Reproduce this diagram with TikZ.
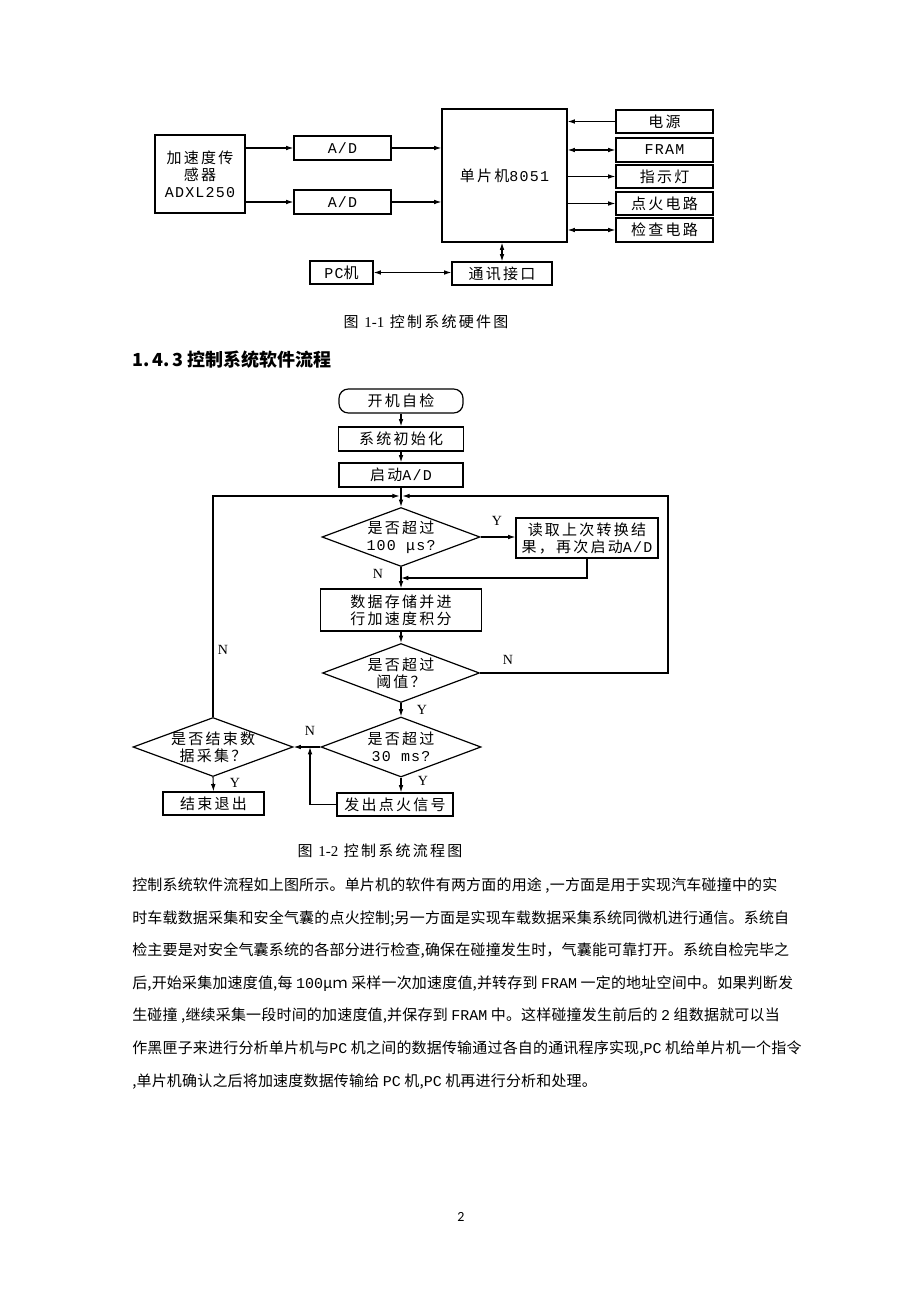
\documentclass[tikz,border=0pt]{standalone}
\usepackage{fontspec}
\setmainfont{Noto Sans CJK SC}
\newfontfamily\dg[LetterSpace=15]{Noto Sans CJK SC}
\newfontfamily\bd[LetterSpace=1.2]{Noto Sans CJK SC}
\newfontfamily\mn[LetterSpace=8]{Liberation Mono}
\newfontfamily\bm{Liberation Mono}
\newfontfamily\srf{Liberation Serif}
\newfontfamily\calf{Carlito}
\usetikzlibrary{shapes.geometric,arrows.meta}
\newdimen\pxu \pxu=0.75pt
\begin{document}
\begin{tikzpicture}[x=0.75pt,y=-0.75pt,
  every node/.style={font=\fontsize{11.25pt}{12.75pt}\dg},
  blk/.style={draw, line width=0.9pt, inner sep=0pt, align=center},
  dia/.style={draw, diamond, line width=0.9pt, inner sep=0pt},
  dtxt/.style={align=center, inner sep=0pt},
  arr/.style={line width=0.8pt, -{Latex[length=5.5pt,width=3.5pt]}},
  darr/.style={line width=0.8pt, {Latex[length=5.5pt,width=3.5pt]}-{Latex[length=5.5pt,width=3.5pt]}},
  ln/.style={line width=0.8pt},
  lbl/.style={font=\fontsize{10.5pt}{12pt}\srf, inner sep=0pt},
  body/.style={anchor=west, inner sep=0pt, font=\fontsize{11.25pt}{13pt}\bd}
]
\fill[white] (0,0) rectangle (920,1301);
\useasboundingbox (0,0) rectangle (920,1301);

% ---------- hardware diagram ----------
\node[blk, minimum width=90\pxu, minimum height=78\pxu] (sens) at (200,174) {加速度传\\感器\\{\mn ADXL250}};
\node[blk, minimum width=97\pxu, minimum height=24\pxu] (ad1) at (342.5,148) {\mn A/D};
\node[blk, minimum width=97\pxu, minimum height=24\pxu] (ad2) at (342.5,202) {\mn A/D};
\node[blk, minimum width=125\pxu, minimum height=133\pxu] (mcu) at (504.5,175.5) {单片机{\mn 8051}};
\node[blk, minimum width=97\pxu, minimum height=23\pxu] (ps) at (664.5,121.5) {电源};
\node[blk, minimum width=97\pxu, minimum height=24\pxu] (fram) at (664.5,150) {\mn FRAM};
\node[blk, minimum width=97\pxu, minimum height=23\pxu] (led) at (664.5,176.5) {指示灯};
\node[blk, minimum width=97\pxu, minimum height=23\pxu] (ign) at (664.5,203.5) {点火电路};
\node[blk, minimum width=97\pxu, minimum height=24\pxu] (chk) at (664.5,230) {检查电路};
\node[blk, minimum width=100\pxu, minimum height=23\pxu] (comm) at (502,273.5) {通讯接口};
\node[blk, minimum width=63\pxu, minimum height=23\pxu] (pc) at (341.5,272.5) {{\mn PC}机};

\draw[arr] (sens.east |- ad1.west) -- (ad1.west);
\draw[arr] (sens.east |- ad2.west) -- (ad2.west);
\draw[arr] (ad1.east) -- (mcu.west |- ad1.east);
\draw[arr] (ad2.east) -- (mcu.west |- ad2.east);
\draw[arr] (ps.west) -- (mcu.east |- ps.west);
\draw[darr] (mcu.east |- fram.west) -- (fram.west);
\draw[arr] (mcu.east |- led.west) -- (led.west);
\draw[arr] (mcu.east |- ign.west) -- (ign.west);
\draw[darr] (mcu.east |- chk.west) -- (chk.west);
\draw[darr] (mcu.south -| comm.north) -- (comm.north);
\draw[darr] (pc.east) -- (comm.west |- pc.east);

\node (cap1) at (426,322) {图\ {\srf 1-1}\ 控制系统硬件图};

\node[anchor=west, inner sep=0pt, font=\fontsize{13.5pt}{16pt}\rmfamily\bfseries] (head) at (132,360) {1.\,4.\,3 控制系统软件流程};

% ---------- flow chart ----------
\node[blk, rounded corners=7pt, minimum width=124\pxu, minimum height=24\pxu] (s0) at (401,401) {开机自检};
\node[blk, minimum width=125\pxu, minimum height=24\pxu] (s1) at (401,439) {系统初始化};
\node[blk, minimum width=124\pxu, minimum height=24\pxu] (s2) at (401,475) {启动{\mn A/D}};
\coordinate (J) at (401,496);
\node[dia, minimum width=158\pxu, minimum height=59\pxu] (d1) at (401,537) {};
\node[dtxt] (d1t) at (d1.center) {是否超过\\{\mn 100 μs?}};
\node[blk, minimum width=142\pxu, minimum height=40\pxu] (rd) at (587,538) {读取上次转换结\\果，再次启动{\mn A/D}};
\coordinate (m1) at (401,578);
\node[blk, minimum width=161\pxu, minimum height=42\pxu] (st) at (401,610) {数据存储并进\\行加速度积分};
\node[dia, minimum width=157\pxu, minimum height=59\pxu] (d2) at (401,673) {};
\node[dtxt] (d2t) at (d2.center) {是否超过\\阈值？};
\node[dia, minimum width=160\pxu, minimum height=60\pxu] (d3) at (401,747) {};
\node[dtxt] (d3t) at (d3.center) {是否超过\\{\mn 30 ms?}};
\node[dia, minimum width=160\pxu, minimum height=59\pxu] (d4) at (213,747) {};
\node[dtxt] (d4t) at (d4.center) {是否结束数\\据采集？};
\node[blk, minimum width=116\pxu, minimum height=23\pxu] (fs) at (395,804.5) {发出点火信号};
\node[blk, minimum width=101\pxu, minimum height=23\pxu] (ex) at (213.5,803.5) {结束退出};
\coordinate (rr) at (668,496);
\coordinate (ll) at (213,496);
\coordinate (fj) at (310,747);

\draw[arr] (s0.south) -- (s1.north);
\draw[arr] (s1.south) -- (s2.north);
\draw[ln] (s2.south) -- (J);
\draw[arr] (J) -- (d1.north);
\draw[arr] (d1.east) -- (d1.east -| rd.west);
\draw[arr] (rd.south) |- (m1);
\draw[arr] (d1.south) -- (st.north);
\draw[arr] (st.south) -- (d2.north);
\draw[arr, shorten >=1pt] (d2.east) -| (rr) -- (J);
\draw[arr] (d2.south) -- (d3.north);
\draw[arr] (d3.west) -- (d4.east);
\draw[arr] (d3.south) -- (d3.south |- fs.north);
\draw[arr] (fs.west) -| (fj);
\draw[arr] (d4.south) -- (ex.north);
\draw[arr, shorten >=1pt] (d4.north) -- (ll) -- (J);

\node[lbl] (y1) at (497,521) {Y};
\node[lbl] (n1) at (378,574) {N};
\node[lbl] (n2) at (508,660) {N};
\node[lbl] (y2) at (422,710) {Y};
\node[lbl] (n3) at (310,731) {N};
\node[lbl] (y3) at (423,781) {Y};
\node[lbl] (y4) at (235,783) {Y};
\node[lbl] (n4) at (223,650) {N};

\node (cap2) at (380,851) {图\ {\srf 1-2}\ 控制系统流程图};

% ---------- body text ----------
\node[body] (p1) at (132,886) {控制系统软件流程如上图所示。单片机的软件有两方面的用途 ,一方面是用于实现汽车碰撞中的实};
\node[body] (p2) at (132,918.5) {时车载数据采集和安全气囊的点火控制;另一方面是实现车载数据采集系统同微机进行通信。系统自};
\node[body] (p3) at (132,951) {检主要是对安全气囊系统的各部分进行检查,确保在碰撞发生时，气囊能可靠打开。系统自检完毕之};
\node[body] (p4) at (132,983.5) {后,开始采集加速度值,每 {\bm 100}μｍ 采样一次加速度值,并转存到 {\bm FRAM} 一定的地址空间中。如果判断发};
\node[body] (p5) at (132,1016) {生碰撞 ,继续采集一段时间的加速度值,并保存到 {\bm FRAM} 中。这样碰撞发生前后的 {\bm 2} 组数据就可以当};
\node[body] (p6) at (132,1049) {作黑匣子来进行分析单片机与{\bm PC} 机之间的数据传输通过各自的通讯程序实现,{\bm PC} 机给单片机一个指令};
\node[body] (p7) at (132,1081.5) {,单片机确认之后将加速度数据传输给 {\bm PC} 机,{\bm PC} 机再进行分析和处理。};

\node[font=\fontsize{10.5pt}{12pt}\calf] (pg) at (461,1217) {2};
\end{tikzpicture}
\end{document}
